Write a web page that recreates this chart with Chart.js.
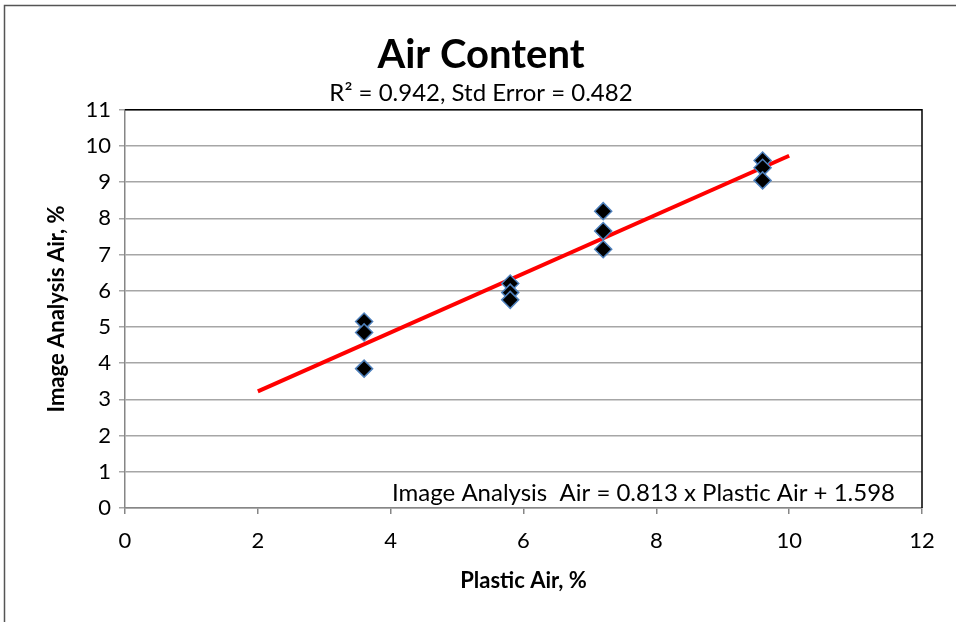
<!DOCTYPE html>
<html>
<head>
<meta charset="utf-8">
<script src="https://cdn.jsdelivr.net/npm/chart.js@4"></script>
<style>
  html, body { margin: 0; padding: 0; background: #fff; }
  #wrap { width: 956px; height: 622px; }
</style>
</head>
<body>
<div id="wrap"><canvas id="airChart" width="956" height="622"></canvas></div>
<script>
const plasticAir = [3.6, 3.6, 3.6, 5.8, 5.8, 5.8, 7.2, 7.2, 7.2, 9.6, 9.6, 9.6];
const imageAir = [5.15, 4.85, 3.85, 6.2, 5.95, 5.75, 8.2, 7.65, 7.15, 9.6, 9.4, 9.05];

// regression line end points
const fitX = [2, 10];
const fitY = [3.22, 9.73];

const chartTitle = 'Air Content';
const chartSubtitle = 'R\u00B2 = 0.942, Std Error = 0.482';
const equationText = 'Image Analysis  Air = 0.813 x Plastic Air + 1.598';
const xTitle = 'Plastic Air, %';
const yTitle = 'Image Analysis Air, %';

const font = 'Lato, "Open Sans", sans-serif';

//outer frame + plot area border + equation text
const extras = {
    id: 'extras',
    beforeDraw(chart) {
        const ctx = chart.ctx;
        ctx.save();
        ctx.strokeStyle = '#555';
        ctx.lineWidth = 1.5;
        ctx.beginPath();
        ctx.moveTo(4.5, 640);
        ctx.lineTo(4.5, 5.5);
        ctx.lineTo(960, 5.5);
        ctx.stroke();
        ctx.restore();
    },
    beforeDatasetsDraw(chart) {
        const ctx = chart.ctx;
        const a = chart.chartArea;
        ctx.save();
        ctx.strokeStyle = '#000';
        ctx.lineWidth = 1.5;
        ctx.beginPath();
        ctx.moveTo(a.left, a.top);
        ctx.lineTo(a.right, a.top);
        ctx.lineTo(a.right, a.bottom);
        ctx.stroke();
        ctx.fillStyle = '#000';
        ctx.font = '24px ' + font;
        ctx.textAlign = 'right';
        ctx.textBaseline = 'middle';
        ctx.fillText(equationText, a.right - 27, a.bottom - 15);
        ctx.restore();
    }
};

const ctxAir = document.getElementById('airChart').getContext('2d');
new Chart(ctxAir, {
    type: 'scatter',
    data: {
        datasets: [{
            label: 'Data',
            data: plasticAir.map((x, i) => ({ x: x, y: imageAir[i] })),
            pointStyle: 'rectRot',
            pointRadius: 8.5,
            backgroundColor: '#000',
            borderColor: '#4f81bd',
            borderWidth: 1.5,
            order: 0
        }, {
            label: 'Fit',
            type: 'line',
            data: fitX.map((x, i) => ({ x: x, y: fitY[i] })),
            borderColor: '#ff0000',
            borderWidth: 4,
            pointRadius: 0,
            fill: false,
            order: 1
        }]
    },
    options: {
        responsive: false,
        animation: false,
        layout: { padding: { left: 40, right: 34, top: 0, bottom: 24 } },
        plugins: {
            legend: { display: false },
            tooltip: { enabled: false },
            title: {
                display: true,
                text: chartTitle,
                color: '#000',
                font: { family: font, size: 40, weight: 'bold' },
                padding: { top: 31, bottom: 0 }
            },
            subtitle: {
                display: true,
                text: chartSubtitle,
                color: '#000',
                font: { family: font, size: 24 },
                padding: { top: 0, bottom: 2 }
            }
        },
        scales: {
            x: {
                type: 'linear',
                min: 0,
                max: 12,
                ticks: { stepSize: 2, color: '#000', font: { family: font, size: 22 }, padding: 14 },
                grid: { drawOnChartArea: false, drawTicks: true, tickLength: 6, color: '#868686', lineWidth: 1.5 },
                border: { color: '#868686', width: 1.5 },
                title: { display: true, text: xTitle, color: '#000', font: { family: font, size: 22, weight: 'bold' }, padding: { top: 8 } },
                afterFit: (s) => { s.height = 90; }
            },
            y: {
                type: 'linear',
                min: 0,
                max: 11,
                ticks: { stepSize: 1, color: '#000', font: { family: font, size: 22 }, padding: 8 },
                grid: { color: '#a6a6a6', lineWidth: 1.5, drawTicks: true, tickLength: 6 },
                border: { color: '#868686', width: 1.5 },
                title: { display: true, text: yTitle, color: '#000', font: { family: font, size: 22, weight: 'bold' } },
                afterFit: (s) => { s.width = 85; }
            }
        }
    },
    plugins: [extras]
});
</script>
</body>
</html>
